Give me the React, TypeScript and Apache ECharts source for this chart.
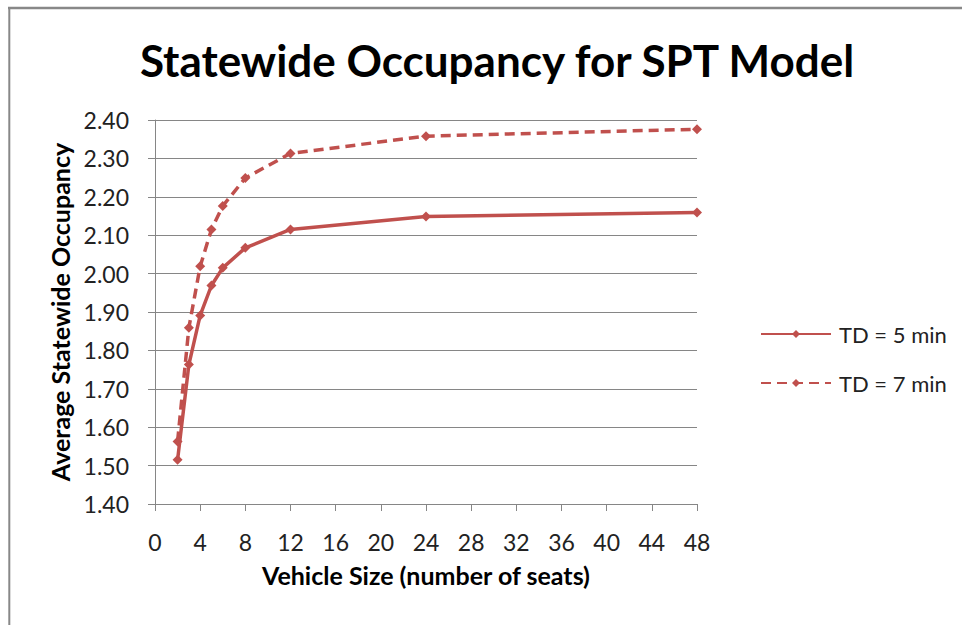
import React, { useEffect, useRef } from "react";
import * as echarts from "echarts";

const vehicleSizes = [2, 3, 4, 5, 6, 8, 12, 24, 48];
const td5Values = [1.515, 1.763, 1.891, 1.969, 2.015, 2.067, 2.115, 2.149, 2.159];
const td7Values = [1.563, 1.859, 2.019, 2.115, 2.176, 2.249, 2.313, 2.358, 2.376];
const seriesNames = ["TD = 5 min", "TD = 7 min"];

const RED = "#C0504D";
const FONT = "Lato";

export default function App() {
  const ref = useRef<HTMLDivElement>(null);
  useEffect(() => {
    if (!ref.current) return;
    const chart = echarts.init(ref.current, null, { renderer: "svg" });
    const mk = (vals: number[]) => vehicleSizes.map((x, i) => [x, vals[i]]);
    chart.setOption({
      animation: false,
      backgroundColor: "#ffffff",
      title: {
        text: "Statewide Occupancy for SPT Model",
        left: 492,
        textAlign: "center",
        top: 33,
        textStyle: { fontFamily: FONT, fontWeight: "bold", fontSize: 44, color: "#000000" },
      },
      grid: { left: 155, right: 265, top: 120, bottom: 121, containLabel: false },
      legend: {
        orient: "vertical",
        left: 755,
        top: 315,
        itemWidth: 70,
        itemHeight: 10,
        itemGap: 21,
        textStyle: { fontFamily: FONT, fontSize: 22, color: "#222222", lineHeight: 28, padding: [0, 0, 0, 3] },
        data: seriesNames,
      },
      xAxis: {
        type: "value",
        min: 0,
        max: 48,
        interval: 4,
        name: "Vehicle Size (number of seats)",
        nameLocation: "middle",
        nameGap: 58,
        nameTextStyle: { fontFamily: FONT, fontWeight: "bold", fontSize: 25, color: "#000000" },
        axisLine: { show: true, lineStyle: { color: "#868686", width: 1 } },
        axisTick: { show: true, length: 7, lineStyle: { color: "#868686" } },
        axisLabel: { fontFamily: FONT, fontSize: 23, color: "#222222", margin: 26 },
        splitLine: { show: false },
      },
      yAxis: {
        type: "value",
        min: 1.4,
        max: 2.4,
        interval: 0.1,
        name: "Average Statewide Occupancy",
        nameLocation: "middle",
        nameGap: 80,
        nameTextStyle: { fontFamily: FONT, fontWeight: "bold", fontSize: 25, color: "#000000" },
        axisLine: { show: true, lineStyle: { color: "#868686", width: 1 } },
        axisTick: { show: true, length: 7, lineStyle: { color: "#868686" } },
        axisLabel: {
          fontFamily: FONT,
          fontSize: 23,
          color: "#222222",
          margin: 26,
          formatter: (v: number) => v.toFixed(2),
        },
        splitLine: { show: true, lineStyle: { color: "#868686", width: 1 } },
      },
      graphic: [
        { type: "line", shape: { x1: 8, y1: 8, x2: 962, y2: 8 }, style: { stroke: "#888888", lineWidth: 2.5 } },
        { type: "line", shape: { x1: 9.3, y1: 8, x2: 9.3, y2: 625 }, style: { stroke: "#888888", lineWidth: 2 } },
      ],
      series: [
        {
          name: seriesNames[0],
          type: "line",
          data: mk(td5Values),
          symbol: "diamond",
          symbolSize: 10,
          itemStyle: { color: RED },
          lineStyle: { color: RED, width: 3.5 },
        },
        {
          name: seriesNames[1],
          type: "line",
          data: mk(td7Values),
          symbol: "diamond",
          symbolSize: 10,
          itemStyle: { color: RED },
          lineStyle: { color: RED, width: 3.5, type: [10, 6] },
        },
      ],
    });
    return () => chart.dispose();
  }, []);
  return (
    <div
      ref={ref}
      style={{ position: "absolute", left: 0, top: 0, width: 962, height: 625 }}
    />
  );
}
